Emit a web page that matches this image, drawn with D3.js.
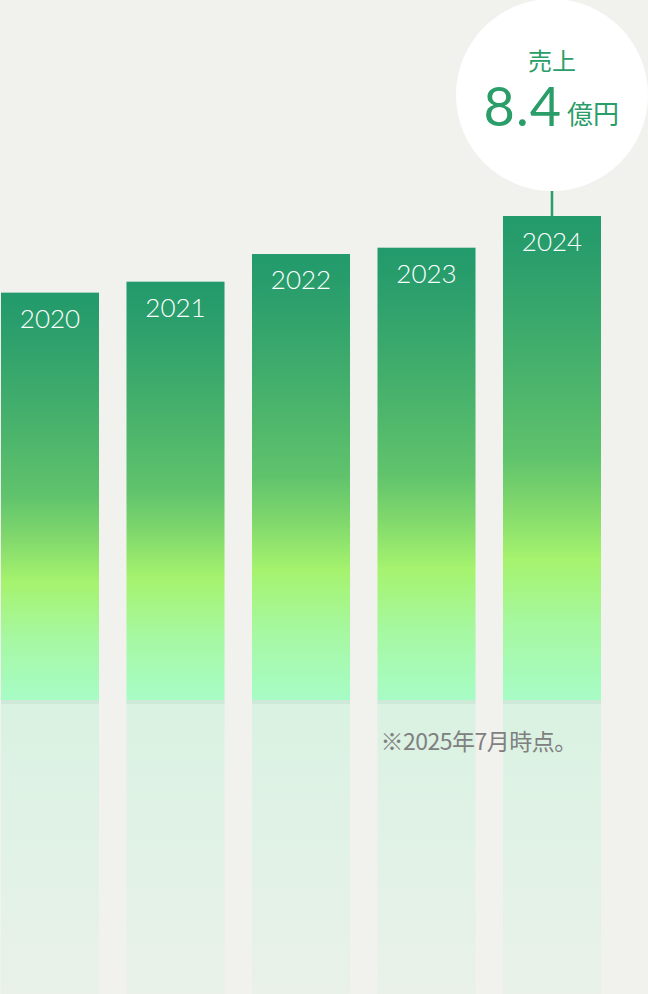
<!DOCTYPE html>
<html>
  <head>
    <meta charset="utf-8">
    <script src="https://d3js.org/d3.v7.min.js"></script>
    <style>
      html, body {
        margin: 0;
        padding: 0;
        background: #f1f1ed;
      }
      svg {
        display: block;
      }
    </style>
  </head>
<body>
  <script type="text/javascript">
    // 年度ごとの売上（億円）— 画像から読み取った概算値
    var years = ["2020", "2021", "2022", "2023", "2024"];
    var sales = [7.07, 7.26, 7.74, 7.85, 8.4];
    var bubbleTitle = "売上";
    var bubbleValue = "8.4";
    var bubbleUnit = "億円";
    var footnote = "※2025年7月時点。";

    var width = 648, height = 994;
    var baseY = 700;

    var data = years.map(function(y, i) { return {year: y, value: sales[i]}; });

    var svg = d3.select("body")
      .append("svg")
        .attr("width", width)
        .attr("height", height);

    svg.append("rect")
      .attr("width", width)
      .attr("height", height)
      .attr("fill", "#f1f1ed");

    var x = d3.scaleBand()
      .domain(years)
      .range([1, 601])
      .paddingInner(0.219)
      .paddingOuter(0);

    var y = d3.scaleLinear()
      .domain([0, 8.4])
      .range([baseY, 216]);

    // グラデーション
    var defs = svg.append("defs");
    var grad = defs.append("linearGradient")
      .attr("id", "barGrad")
      .attr("x1", 0).attr("y1", 0)
      .attr("x2", 0).attr("y2", 1);
    [[0, "#229a6b"], [0.1, "#2c9f6c"], [0.3, "#45b06c"], [0.5, "#60c36c"],
     [0.6, "#80d86c"], [0.71, "#a5f36e"], [0.85, "#a6f8a2"], [1, "#a7fcc6"]].forEach(function(s) {
      grad.append("stop").attr("offset", s[0]).attr("stop-color", s[1]);
    });

    var refl = defs.append("linearGradient")
      .attr("id", "reflGrad")
      .attr("x1", 0).attr("y1", 0)
      .attr("x2", 0).attr("y2", 1);
    [[0, "#d9f2e2"], [0.5, "#e1f2e6"], [1, "#e9f1e8"]].forEach(function(s) {
      refl.append("stop").attr("offset", s[0]).attr("stop-color", s[1]);
    });

    // 反射部分
    svg.selectAll(".refl")
      .data(data)
      .enter()
      .append("rect")
        .attr("class", "refl")
        .attr("x", function(d) { return x(d.year); })
        .attr("y", baseY)
        .attr("width", x.bandwidth())
        .attr("height", height - baseY)
        .attr("fill", "url(#reflGrad)");

    svg.selectAll(".reflEdge")
      .data(data)
      .enter()
      .append("rect")
        .attr("class", "reflEdge")
        .attr("x", function(d) { return x(d.year); })
        .attr("y", baseY)
        .attr("width", x.bandwidth())
        .attr("height", 4)
        .attr("fill", "#cfe9d9");

    // 棒
    svg.selectAll(".bar")
      .data(data)
      .enter()
      .append("rect")
        .attr("class", "bar")
        .attr("x", function(d) { return x(d.year); })
        .attr("y", function(d) { return y(d.value); })
        .attr("width", x.bandwidth())
        .attr("height", function(d) { return baseY - y(d.value); })
        .attr("fill", "url(#barGrad)");

    // 年ラベル
    svg.selectAll(".yearLabel")
      .data(data)
      .enter()
      .append("text")
        .attr("class", "yearLabel")
        .attr("x", function(d) { return x(d.year) + x.bandwidth() / 2; })
        .attr("y", function(d) { return y(d.value) + 35; })
        .attr("text-anchor", "middle")
        .style("font-family", "Lato, sans-serif")
        .style("font-weight", 300)
        .style("font-size", "26px")
        .style("fill", "#ffffff")
        .text(function(d) { return d.year; });

    // 吹き出し（最新年）
    var last = data[data.length - 1];
    var cx = x(last.year) + x.bandwidth() / 2;
    var cy = 95, r = 96;
    var green = "#2a9d68";

    svg.append("line")
      .attr("x1", cx).attr("x2", cx)
      .attr("y1", 161)
      .attr("y2", y(last.value))
      .attr("stroke", green)
      .attr("stroke-width", 2.5);

    svg.append("circle")
      .attr("cx", cx)
      .attr("cy", cy)
      .attr("r", r)
      .attr("fill", "#ffffff");

    svg.append("text")
      .attr("x", cx)
      .attr("y", 70)
      .attr("text-anchor", "middle")
      .style("font-family", "'Noto Sans CJK JP', sans-serif")
      .style("font-weight", 400)
      .style("font-size", "24px")
      .style("fill", green)
      .text(bubbleTitle);

    svg.append("text")
      .attr("x", cx + 10)
      .attr("y", 126)
      .attr("text-anchor", "end")
      .style("font-family", "Lato, sans-serif")
      .style("font-weight", 400)
      .style("font-size", "54px")
      .style("letter-spacing", "1px")
      .style("fill", green)
      .text(bubbleValue);

    svg.append("text")
      .attr("x", cx + 15)
      .attr("y", 124)
      .attr("text-anchor", "start")
      .style("font-family", "'Noto Sans CJK JP', sans-serif")
      .style("font-weight", 400)
      .style("font-size", "26px")
      .style("fill", green)
      .text(bubbleUnit);

    // 注記
    svg.append("text")
      .attr("x", x("2023") + 3)
      .attr("y", 750)
      .style("font-family", "'Noto Sans CJK JP', sans-serif")
      .style("font-size", "23px")
      .style("fill", "#808080")
      .style("letter-spacing", "-0.5px")
      .text(footnote);
  </script>
</body>
</html>
